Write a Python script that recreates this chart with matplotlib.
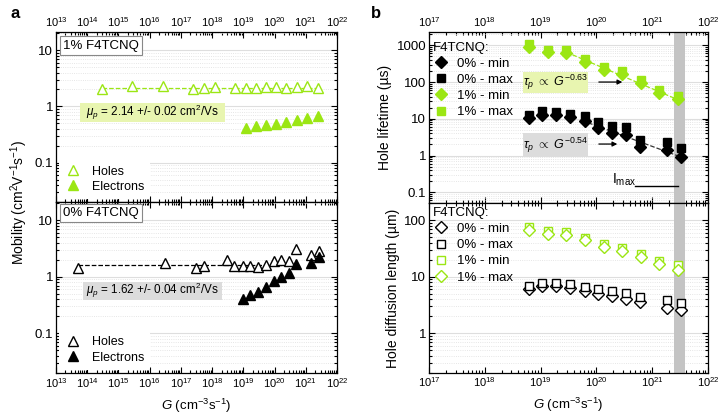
import numpy as np
import matplotlib
matplotlib.use("Agg")
import matplotlib.pyplot as plt
import matplotlib.ticker as ticker
from matplotlib.patches import Rectangle

plt.rcParams['font.family'] = ['Liberation Sans', 'DejaVu Sans']
plt.rcParams['mathtext.fontset'] = 'custom'
plt.rcParams['mathtext.rm'] = 'Liberation Sans'
plt.rcParams['mathtext.it'] = 'Liberation Sans:italic'
plt.rcParams['mathtext.default'] = 'it'

GREEN = '#9be614'
LIGHT_GREEN = '#e8f5b0'
LIGHT_GRAY = '#dcdcdc'

# ---- panel a data: mobility vs G ----
g_h1 = [2.9e14, 2.7e15, 2.6e16, 2.5e17, 5.5e17, 1.2e18, 5.5e18, 1.2e19, 2.5e19,
        5.3e19, 1.1e20, 2.4e20, 5.2e20, 1.1e21, 2.4e21]
mu_h1 = [2.05, 2.3, 2.3, 2.05, 2.1, 2.2, 2.1, 2.1, 2.1, 2.2, 2.2, 2.1, 2.2, 2.35, 2.1]
g_e1 = [1.2e19, 2.5e19, 5.3e19, 1.1e20, 2.4e20, 5.2e20, 1.1e21, 2.4e21]
mu_e1 = [0.41, 0.44, 0.46, 0.49, 0.53, 0.57, 0.63, 0.68]
mu_mean1 = 2.14

g_h0 = [5.2e13, 3.0e16, 3.1e17, 5.4e17, 3.0e18, 5.2e18, 9.4e18, 1.66e19, 2.9e19,
        5.2e19, 9.4e19, 1.63e20, 2.9e20, 4.9e20, 1.5e21, 2.7e21]
mu_h0 = [1.41, 1.77, 1.41, 1.55, 1.98, 1.57, 1.57, 1.57, 1.52, 1.61, 1.87, 1.98,
         1.87, 3.14, 2.39, 2.9]
g_e0 = [9.4e18, 1.66e19, 2.9e19, 5.2e19, 9.4e19, 1.63e20, 2.9e20, 4.9e20, 1.5e21, 2.7e21]
mu_e0 = [0.40, 0.47, 0.55, 0.65, 0.83, 1.0, 1.15, 1.72, 1.77, 2.26]
mu_mean0 = 1.62

# ---- panel b data: lifetime and diffusion length ----
g_b1 = [6.2e18, 1.37e19, 2.9e19, 6.2e19, 1.35e20, 2.9e20, 6.2e20, 1.3e21, 2.9e21]
g_b0 = [6.2e18, 1.05e19, 1.87e19, 3.4e19, 6.2e19, 1.07e20, 1.9e20, 3.4e20, 6.0e20,
        1.86e21, 3.3e21]

tau_1_max = [1090, 760, 730, 424, 251, 200, 111, 59, 43]
tau_1_min = [880, 640, 620, 351, 208, 169, 94, 50, 34]
tau_0_max = [12.4, 15.8, 15.5, 13.7, 11.6, 8.1, 6.4, 5.9, 2.7, 2.4, 1.65]
tau_0_min = [10.2, 12.6, 12.8, 11.0, 8.5, 5.6, 4.2, 3.6, 1.75, 1.43, 0.94]

fit1_g = [2.9e19, 3.2e21]
fit1_tau = [650, 31]
fit0_g = [5.5e19, 3.5e21]
fit0_tau = [9.0, 0.88]

L_1_sq = [76, 64, 61, 49, 37.5, 32.7, 24.9, 18.7, 15.9]
L_1_di = [68, 58, 56, 44, 33.6, 28.5, 22.3, 16.5, 13.4]
L_0_sq = [7.0, 7.7, 7.7, 7.3, 6.7, 6.0, 5.5, 5.2, 4.4, 3.8, 3.5]
L_0_di = [6.1, 6.8, 6.8, 6.4, 5.7, 5.0, 4.5, 4.1, 3.6, 2.8, 2.6]

imax_band = (2.5e21, 3.9e21)

fig = plt.figure(figsize=(7.2, 4.18), dpi=100)

ax_a1 = fig.add_axes([0.0778, 0.5167, 0.3903, 0.4067])
ax_a0 = fig.add_axes([0.0778, 0.1077, 0.3903, 0.4090])
ax_b1 = fig.add_axes([0.5958, 0.5136, 0.3875, 0.4098])
ax_b0 = fig.add_axes([0.5958, 0.1084, 0.3875, 0.4052])


def log_ticks(lo, hi):
    major = [10.0 ** k for k in range(lo, hi + 1)]
    minor = [m * 10.0 ** k for k in range(lo, hi) for m in range(2, 10)]
    return major, minor


def style(ax, xdec, ydec, ylim, yticks, top_labels):
    ax.set_xscale('log')
    ax.set_yscale('log')
    ax.set_xlim(10.0 ** xdec[0], 10.0 ** xdec[1])
    ax.set_ylim(*ylim)
    xmaj, xmin = log_ticks(*xdec)
    ax.xaxis.set_major_locator(ticker.FixedLocator(xmaj))
    ax.xaxis.set_major_formatter(ticker.LogFormatterSciNotation())
    ax.xaxis.set_minor_locator(ticker.FixedLocator(xmin))
    ax.xaxis.set_minor_formatter(ticker.NullFormatter())
    ymaj, ymin = log_ticks(*ydec)
    ax.yaxis.set_major_locator(ticker.FixedLocator(yticks))
    ax.yaxis.set_major_formatter(ticker.FixedFormatter([('%g' % t) for t in yticks]))
    ax.yaxis.set_minor_locator(ticker.FixedLocator([v for v in ymin if ylim[0] <= v <= ylim[1]]))
    ax.yaxis.set_minor_formatter(ticker.NullFormatter())
    ax.tick_params(which='both', direction='in', top=True, right=True, width=0.8)
    ax.tick_params(axis='x', labelsize=8)
    ax.tick_params(axis='y', labelsize=9.5, pad=2)
    ax.tick_params(which='major', length=4)
    ax.tick_params(which='minor', length=2)
    ax.tick_params(axis='x', labeltop=top_labels, labelbottom=not top_labels, pad=2)
    ax.grid(True, which='major', axis='y', color='#dedede', lw=0.8)
    ax.grid(True, which='minor', axis='y', color='#dedede', lw=0.6, ls=':')
    ax.set_axisbelow(True)
    for s in ax.spines.values():
        s.set_linewidth(0.9)


style(ax_a1, (13, 22), (-2, 2), (0.02, 21), [0.1, 1, 10], True)
style(ax_a0, (13, 22), (-2, 2), (0.02, 21), [0.1, 1, 10], False)
style(ax_b1, (17, 22), (-2, 4), (0.05, 2300), [0.1, 1, 10, 100, 1000], True)
style(ax_b0, (17, 22), (-1, 3), (0.2, 200), [1, 10, 100], False)


def white_legend(ax):
    leg = ax.legend(loc='lower left', frameon=True, fontsize=9, handletextpad=0.9,
                    labelspacing=0.25, borderaxespad=0.25, handlelength=1.2,
                    borderpad=0.5)
    leg.get_frame().set_edgecolor('none')
    leg.get_frame().set_facecolor('white')
    leg.get_frame().set_alpha(1)


def b_legend(ax, top):
    leg = ax.legend(loc='upper left', bbox_to_anchor=(0.004, top), title='F4TCNQ:',
                    frameon=False, fontsize=9.5, title_fontsize=9.5,
                    handletextpad=0.55, labelspacing=0.3, borderaxespad=0,
                    handlelength=1.3, borderpad=0.2)
    leg._legend_box.align = 'left'


def label_box(ax, x0, x1, y0, y1, color, text, size):
    ax.add_patch(Rectangle((x0, y0), x1 - x0, y1 - y0, transform=ax.transAxes,
                           fc=color, ec='none', zorder=2.5))
    ax.text((x0 + x1) / 2, (y0 + y1) / 2, text, transform=ax.transAxes, fontsize=size,
            ha='center', va='center', zorder=4)


# ---- panel a, 1% ----
ax_a1.plot([g_h1[0], g_h1[-1]], [mu_mean1, mu_mean1], ls='--', color=GREEN, lw=0.9, zorder=2)
ax_a1.plot(g_h1, mu_h1, '^', mfc='white', mec=GREEN, mew=1.0, ms=6.5, ls='none',
           label='Holes', zorder=3)
ax_a1.plot(g_e1, mu_e1, '^', color=GREEN, ms=6.5, ls='none', label='Electrons', zorder=3)
ax_a1.text(0.025, 0.955, '1% F4TCNQ', transform=ax_a1.transAxes, fontsize=9.5,
           va='top', ha='left',
           bbox=dict(boxstyle='square,pad=0.25', fc='white', ec='#888888', lw=0.8))
label_box(ax_a1, 0.085, 0.601, 0.47, 0.582, LIGHT_GREEN,
          r'$\mu_p$ = 2.14 +/- 0.02 cm$^{\mathrm{2}}$/Vs', 8.4)
white_legend(ax_a1)

# ---- panel a, 0% ----
ax_a0.plot([g_h0[0], 5e20], [mu_mean0, mu_mean0], ls='--', color='black', lw=0.9, zorder=2)
ax_a0.plot(g_h0, mu_h0, '^', mfc='white', mec='black', mew=1.0, ms=6.5, ls='none',
           label='Holes', zorder=3)
ax_a0.plot(g_e0, mu_e0, '^', color='black', ms=6.5, ls='none', label='Electrons', zorder=3)
ax_a0.text(0.025, 0.97, '0% F4TCNQ', transform=ax_a0.transAxes, fontsize=9.5,
           va='top', ha='left',
           bbox=dict(boxstyle='square,pad=0.25', fc='white', ec='#888888', lw=0.8))
label_box(ax_a0, 0.096, 0.591, 0.429, 0.535, LIGHT_GRAY,
          r'$\mu_p$ = 1.62 +/- 0.04 cm$^{\mathrm{2}}$/Vs', 8.4)
white_legend(ax_a0)

# ---- panel b, lifetime ----
for ax in (ax_b1, ax_b0):
    ax.axvspan(*imax_band, color='#c4c4c4', lw=0, zorder=1)

ax_b1.plot(fit1_g, fit1_tau, ls='--', color=GREEN, lw=0.9, zorder=2)
ax_b1.plot(fit0_g, fit0_tau, ls='--', color='#333333', lw=0.9, zorder=2)
ax_b1.plot(g_b0, tau_0_min, 'D', color='black', ms=6, ls='none', label='0% - min', zorder=3)
ax_b1.plot(g_b0, tau_0_max, 's', color='black', ms=5.5, ls='none', label='0% - max', zorder=3)
ax_b1.plot(g_b1, tau_1_min, 'D', color=GREEN, ms=6, ls='none', label='1% - min', zorder=3)
ax_b1.plot(g_b1, tau_1_max, 's', color=GREEN, ms=5.5, ls='none', label='1% - max', zorder=3)
b_legend(ax_b1, 0.96)

label_box(ax_b1, 0.337, 0.570, 0.642, 0.768, LIGHT_GREEN,
          r'$\tau_p$ $\propto$ $G^{\mathrm{-0.63}}$', 9)
label_box(ax_b1, 0.337, 0.570, 0.270, 0.410, LIGHT_GRAY,
          r'$\tau_p$ $\propto$ $G^{\mathrm{-0.54}}$', 9)
ax_b1.annotate('', xy=(0.703, 0.708), xytext=(0.599, 0.708), xycoords='axes fraction',
               arrowprops=dict(arrowstyle='-|>', color='black', lw=0.9, mutation_scale=7))
ax_b1.annotate('', xy=(0.685, 0.346), xytext=(0.599, 0.346), xycoords='axes fraction',
               arrowprops=dict(arrowstyle='-|>', color='black', lw=0.9, mutation_scale=7))
ax_b1.text(0.655, 0.135, r'I$_{\mathrm{max}}$', transform=ax_b1.transAxes, fontsize=10,
           ha='left', va='center')
ax_b1.plot([0.738, 0.892], [0.1, 0.1], color='black', lw=1.0, transform=ax_b1.transAxes)
ax_b1.set_ylabel('Hole lifetime (µs)', fontsize=10, labelpad=3)

# ---- panel b, diffusion length ----
ax_b0.plot(g_b0, L_0_di, 'D', mfc='white', mec='black', mew=1.0, ms=6, ls='none',
           label='0% - min', zorder=3)
ax_b0.plot(g_b0, L_0_sq, 's', mfc='white', mec='black', mew=1.0, ms=5.5, ls='none',
           label='0% - max', zorder=3)
ax_b0.plot(g_b1, L_1_sq, 's', mfc='white', mec=GREEN, mew=1.0, ms=5.5, ls='none',
           label='1% - min', zorder=3)
ax_b0.plot(g_b1, L_1_di, 'D', mfc='white', mec=GREEN, mew=1.0, ms=6, ls='none',
           label='1% - max', zorder=3)
b_legend(ax_b0, 0.995)
ax_b0.set_ylabel('Hole diffusion length (µm)', fontsize=10, labelpad=3)

for ax in (ax_a0, ax_b0):
    ax.set_xlabel(r'$G$ (cm$^{\mathrm{-3}}$s$^{\mathrm{-1}}$)', fontsize=9.5, labelpad=5)

fig.text(0.026, 0.5167, r'Mobility (cm$^{\mathrm{2}}$V$^{\mathrm{-1}}$s$^{\mathrm{-1}}$)',
         rotation=90, fontsize=10, ha='center', va='center')

fig.text(0.014, 0.985, 'a', fontsize=12, fontweight='bold', va='top')
fig.text(0.515, 0.985, 'b', fontsize=12, fontweight='bold', va='top')

fig.savefig('out.png', dpi=100)
